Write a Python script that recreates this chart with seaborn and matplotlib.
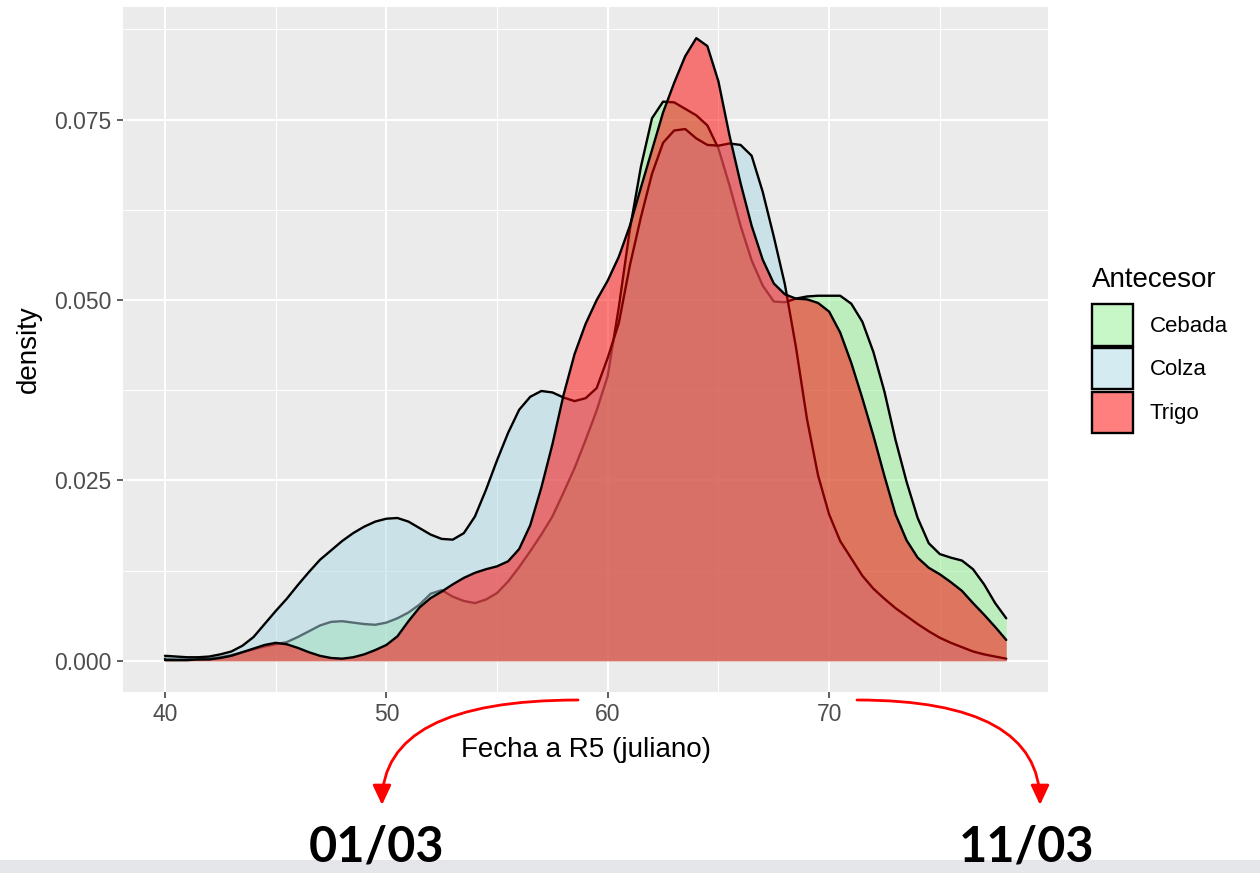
import numpy as np
import pandas as pd
import matplotlib
matplotlib.use("Agg")
import matplotlib.pyplot as plt
import seaborn as sns
from matplotlib.patches import Patch, Rectangle
from matplotlib.ticker import MultipleLocator, FormatStrFormatter
from matplotlib.colors import to_rgba

# ---------------- data ----------------
x_grid = [40.0, 40.5, 41.0, 41.5, 42.0, 42.5, 43.0, 43.5, 44.0, 44.5,
          45.0, 45.5, 46.0, 46.5, 47.0, 47.5, 48.0, 48.5, 49.0, 49.5,
          50.0, 50.5, 51.0, 51.5, 52.0, 52.5, 53.0, 53.5, 54.0, 54.5,
          55.0, 55.5, 56.0, 56.5, 57.0, 57.5, 58.0, 58.5, 59.0, 59.5,
          60.0, 60.5, 61.0, 61.5, 62.0, 62.5, 63.0, 63.5, 64.0, 64.5,
          65.0, 65.5, 66.0, 66.5, 67.0, 67.5, 68.0, 68.5, 69.0, 69.5,
          70.0, 70.5, 71.0, 71.5, 72.0, 72.5, 73.0, 73.5, 74.0, 74.5,
          75.0, 75.5, 76.0, 76.5, 77.0, 77.5, 78.0]

cebada = [0.0003, 0.0002, 0.0002, 0.0002, 0.0003, 0.0005, 0.0008, 0.0012, 0.0016, 0.0020,
          0.0023, 0.0026, 0.0033, 0.0041, 0.0049, 0.0054, 0.0055, 0.0053, 0.0051, 0.0050,
          0.0053, 0.0059, 0.0067, 0.0078, 0.0093, 0.0098, 0.0089, 0.0083, 0.0080, 0.0085,
          0.0094, 0.0110, 0.0130, 0.0152, 0.0175, 0.0200, 0.0233, 0.0267, 0.0306, 0.0347,
          0.0395, 0.0490, 0.0598, 0.0685, 0.0752, 0.0775, 0.0774, 0.0765, 0.0756, 0.0742,
          0.0710, 0.0659, 0.0603, 0.0555, 0.0520, 0.0498, 0.0497, 0.0502, 0.0505, 0.0506,
          0.0506, 0.0506, 0.0495, 0.0470, 0.0428, 0.0373, 0.0306, 0.0248, 0.0198, 0.0163,
          0.0148, 0.0143, 0.0139, 0.0127, 0.0106, 0.0080, 0.0059]

colza = [0.0007, 0.0006, 0.0005, 0.0005, 0.0006, 0.0009, 0.0013, 0.0021, 0.0033, 0.0051,
         0.0069, 0.0086, 0.0105, 0.0123, 0.0140, 0.0153, 0.0166, 0.0177, 0.0186, 0.0193,
         0.0197, 0.0198, 0.0193, 0.0184, 0.0175, 0.0169, 0.0168, 0.0177, 0.0200, 0.0237,
         0.0278, 0.0316, 0.0348, 0.0366, 0.0374, 0.0372, 0.0365, 0.0360, 0.0364, 0.0378,
         0.0420, 0.0468, 0.0548, 0.0615, 0.0675, 0.0718, 0.0735, 0.0737, 0.0724, 0.0715,
         0.0714, 0.0717, 0.0715, 0.0700, 0.0650, 0.0588, 0.0522, 0.0435, 0.0335, 0.0257,
         0.0203, 0.0166, 0.0142, 0.0118, 0.0100, 0.0086, 0.0073, 0.0062, 0.0051, 0.0041,
         0.0032, 0.0025, 0.0019, 0.0013, 0.0009, 0.0006, 0.0003]

trigo = [0.0001, 0.0001, 0.0001, 0.0002, 0.0002, 0.0004, 0.0007, 0.0012, 0.0017, 0.0022,
         0.0025, 0.0023, 0.0018, 0.0012, 0.0007, 0.0004, 0.0003, 0.0005, 0.0009, 0.0015,
         0.0022, 0.0034, 0.0055, 0.0074, 0.0087, 0.0096, 0.0106, 0.0115, 0.0122, 0.0127,
         0.0131, 0.0138, 0.0155, 0.0188, 0.0240, 0.0300, 0.0368, 0.0425, 0.0467, 0.0500,
         0.0527, 0.0560, 0.0603, 0.0656, 0.0708, 0.0760, 0.0801, 0.0838, 0.0863, 0.0852,
         0.0803, 0.0728, 0.0662, 0.0603, 0.0556, 0.0523, 0.0508, 0.0502, 0.0501, 0.0496,
         0.0484, 0.0455, 0.0413, 0.0364, 0.0312, 0.0256, 0.0203, 0.0167, 0.0143, 0.0129,
         0.0120, 0.0109, 0.0097, 0.0080, 0.0064, 0.0047, 0.0029]

groups = ["Cebada", "Colza", "Trigo"]
x_ticks = [40, 50, 60, 70]
y_ticks = [0.000, 0.025, 0.050, 0.075]
x_title = "Fecha a R5 (juliano)"
y_title = "density"
legend_title = "Antecesor"
date_labels = ["01/03", "11/03"]

series = {"Cebada": cebada, "Colza": colza, "Trigo": trigo}
df = pd.concat([pd.DataFrame({"x": x_grid, "density": series[g], "Antecesor": g})
                for g in groups], ignore_index=True)

# ---------------- style ----------------
sns.set_theme(style="darkgrid", rc={
    "axes.facecolor": "#EBEBEB",
    "grid.color": "white",
    "axes.edgecolor": "none",
    "figure.facecolor": "white",
    "text.color": "black",
    "axes.labelcolor": "black",
})
plt.rcParams["font.family"] = ["Liberation Sans", "DejaVu Sans"]

fills = {"Cebada": "#90EE90", "Colza": "#ADD8E6", "Trigo": "#FF0000"}

W, H = 1260, 873
fig = plt.figure(figsize=(W / 100, H / 100), dpi=100)
ax = fig.add_axes([122.9 / W, (H - 692) / H, (1048.3 - 122.9) / W, (692 - 7) / H])
ax.set_axisbelow(True)

for i, g in enumerate(groups):
    sub = df[df["Antecesor"] == g]
    ax.fill_between(sub["x"], 0, sub["density"], color=fills[g], alpha=0.5,
                    lw=0, zorder=2 + 2 * i)
    sns.lineplot(data=sub, x="x", y="density", color="black", lw=1.7, ax=ax,
                 zorder=3 + 2 * i, legend=False, estimator=None, sort=False)

xmin, xmax = min(x_grid), max(x_grid)
ymax = df["density"].max()
ax.set_xlim(xmin - 0.05 * (xmax - xmin), xmax + 0.05 * (xmax - xmin))
ax.set_ylim(-0.05 * ymax, ymax * 1.05)

ax.set_xticks(x_ticks)
ax.set_yticks(y_ticks)
ax.yaxis.set_major_formatter(FormatStrFormatter("%.3f"))
ax.xaxis.set_minor_locator(MultipleLocator(5))
ax.yaxis.set_minor_locator(MultipleLocator(0.0125))
ax.grid(which="major", color="white", lw=1.5)
ax.grid(which="minor", color="white", lw=0.75)
ax.tick_params(which="major", length=4, width=1.1, color="#333333",
               labelcolor="#4D4D4D", labelsize=16.5, pad=4, bottom=True, left=True)
ax.tick_params(which="minor", length=0)
for s in ax.spines.values():
    s.set_visible(False)

ax.set_xlabel(x_title, fontsize=20, color="black", labelpad=8)
ax.set_ylabel(y_title, fontsize=20, color="black", labelpad=9)

# legend
fig.text(1092 / W, 1 - 287 / H, legend_title, ha="left", va="baseline",
         fontsize=20, color="black")
handles = [Patch(facecolor=to_rgba(fills[g], 0.5), edgecolor="black", lw=1.7) for g in groups]
leg = ax.legend(handles, groups, loc="upper left",
                bbox_to_anchor=(1092 / W, 1 - 304 / H), bbox_transform=fig.transFigure,
                frameon=False, borderpad=0, borderaxespad=0, fontsize=16,
                handlelength=1.85, handleheight=2.5, labelspacing=0.1, handletextpad=0.75,
                labelcolor="black")

# bottom band
fig.add_artist(Rectangle((0, 0), 1, 13 / H, transform=fig.transFigure,
                         facecolor="#E5E6EA", edgecolor="none", zorder=0))

# date labels
for lbl, xc in zip(date_labels, [376, 1027]):
    fig.text(xc / W, 1 - 862 / H, lbl, ha="center", va="baseline",
             fontsize=35, fontweight="bold", color="black",
             family=["Lato", "DejaVu Sans"], zorder=5)

# curved red arrows
arrow_kw = dict(arrowstyle="-|>,head_length=0.6,head_width=0.28", mutation_scale=20,
                color="red", lw=2, shrinkA=0, shrinkB=0)
ax.annotate("", xy=(382, H - 805), xycoords="figure pixels",
            xytext=(578, H - 700), textcoords="figure pixels",
            arrowprops=dict(connectionstyle="angle3,angleA=0,angleB=90", **arrow_kw),
            annotation_clip=False)
ax.annotate("", xy=(1040, H - 805), xycoords="figure pixels",
            xytext=(857, H - 700), textcoords="figure pixels",
            arrowprops=dict(connectionstyle="angle3,angleA=0,angleB=90", **arrow_kw),
            annotation_clip=False)

fig.savefig("out.png", dpi=100)
